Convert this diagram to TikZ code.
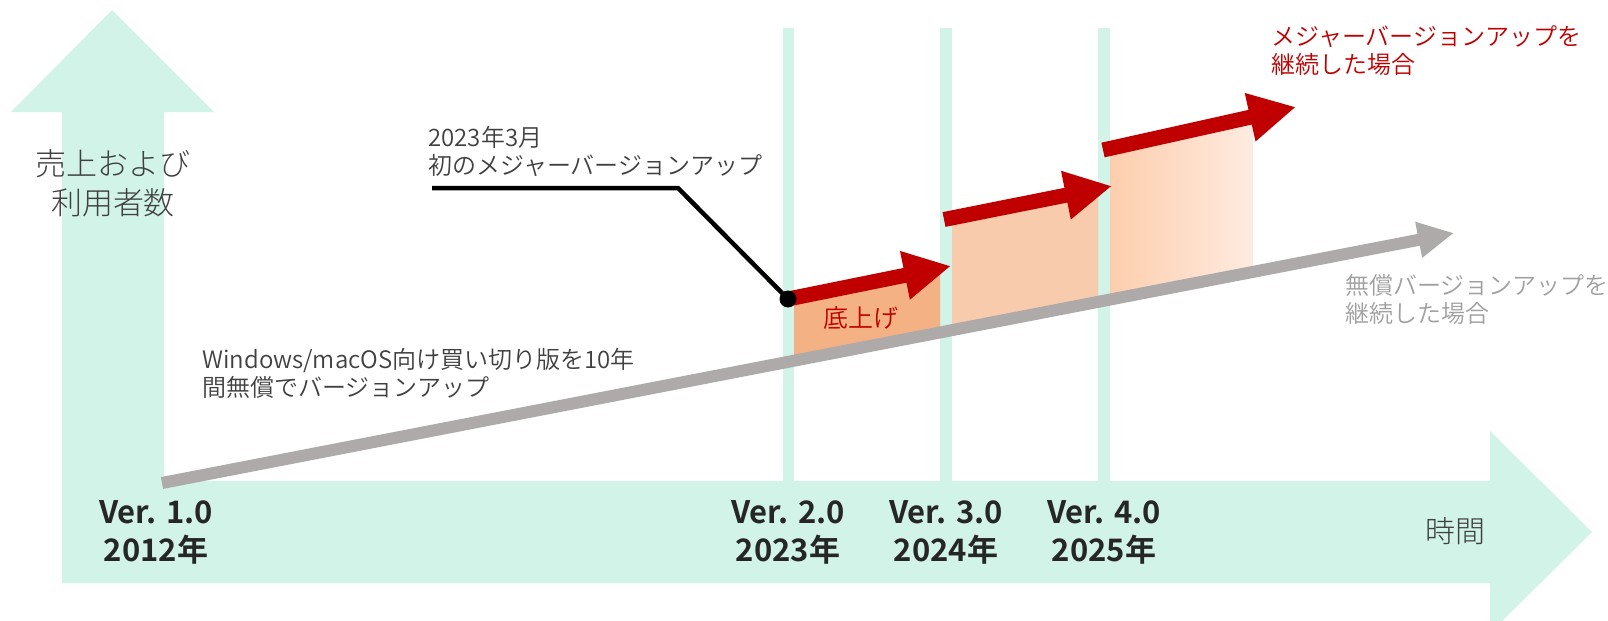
\documentclass[tikz,border=0pt]{standalone}
\usepackage{fontspec}
\setmainfont{Noto Sans CJK JP}[BoldFont={Noto Sans CJK JP Bold}]
\IfFontExistsTF{Noto Sans CJK JP DemiLight}
  {\newfontfamily\notefont{Noto Sans CJK JP DemiLight}}
  {\newfontfamily\notefont{Noto Sans CJK JP}}
\IfFontExistsTF{Noto Sans CJK JP Light}
  {\newfontfamily\lightfont{Noto Sans CJK JP Light}}
  {\newfontfamily\lightfont{Noto Sans CJK JP}}
\usetikzlibrary{arrows.meta}
\definecolor{mint}{HTML}{D1F3E8}
\definecolor{darkred}{HTML}{C00000}
\definecolor{lgray}{HTML}{AEAAAA}
\definecolor{org1}{HTML}{F4B183}
\definecolor{org2}{HTML}{F8CBAD}
\definecolor{org3a}{HTML}{FDCEAE}
\definecolor{org3b}{HTML}{FEEBE0}
\definecolor{txt}{HTML}{404040}
\definecolor{vertxt}{HTML}{262626}
\definecolor{notegray}{HTML}{A0A0A0}
\begin{document}
\begin{tikzpicture}[x=0.5pt,y=-0.5pt,
  bar/.style={fill=mint},
  redarrow/.style={draw=darkred, line width=7.5pt, -{Triangle[width=23pt,length=23.5pt]}},
  grayarrow/.style={draw=lgray, line width=6pt, -{Triangle[width=17pt,length=18pt]}},
  note/.style={inner sep=0pt, anchor=base west, align=left, font=\notefont\fontsize{12}{13.75}\selectfont},
  verlabel/.style={inner sep=0pt, anchor=base, align=center, text=vertxt, font=\fontsize{15.5}{19}\selectfont\bfseries},
  callout/.style={draw=black, line width=2.25pt},
  dotstyle/.style={circle, fill=black, inner sep=0pt, minimum size=8.5pt}
]
\useasboundingbox (0,0) rectangle (1608,621);
% mint axes
\begin{scope}
\clip (0,0) rectangle (1608,621);
\fill[mint] (62,583) -- (62,112) -- (11,112) -- (112,10) -- (214,112) -- (164,112)
  -- (164,481) -- (1490,481) -- (1490,431) -- (1592,532) -- (1490,633) -- (1490,583) -- cycle;
\end{scope}
% vertical bars
\fill[bar] (782.75,28) rectangle (794.25,481);
\fill[bar] (940.25,28) rectangle (951.75,481);
\fill[bar] (1098.25,28) rectangle (1109.75,481);
% boxes
\fill[org1] (794,298) -- (940,268.2) -- (940,332.5) -- (794,360.7) -- cycle;
\fill[org2] (952,217.9) -- (1098,188.9) -- (1098,302) -- (952,330) -- cycle;
\shade[left color=org3a, right color=org3b] (1110,148.4) -- (1253,116.5) -- (1253,272) -- (1110,299.6) -- cycle;
% gray trend
\coordinate (g0) at (162,483);
\coordinate (g1) at (1454,233);
\draw[grayarrow] (g0) -- (g1);
% red arrows
\coordinate (d) at (788,299);
\coordinate (r1) at (951,266);
\coordinate (r2s) at (944,219.5);
\coordinate (r2) at (1112,186);
\coordinate (r3s) at (1103,150);
\coordinate (r3) at (1296,107);
\draw[redarrow] (d) -- (r1);
\draw[redarrow] (r2s) -- (r2);
\draw[redarrow] (r3s) -- (r3);
% callout
\coordinate (c1) at (432,188);
\coordinate (c2) at (678,188);
\draw[callout] (c1) -- (c2) -- (d);
\node[dotstyle] (dot) at (d) {};
% texts (base anchor = baseline of the last line)
\node[inner sep=0pt, anchor=base, align=center, text=txt, font=\lightfont\fontsize{15.5}{19.5}\selectfont] (yaxis) at (113,214) {売上および\\利用者数};
\node[note, text=txt] (ann1) at (428,174) {2023年3月\\初のメジャーバージョンアップ};
\node[note, text=txt] (ann2) at (202,396) {Windows/macOS向け買い切り版を10年\\間無償でバージョンアップ};
\node[note, text=darkred] (rednote) at (1271,73) {メジャーバージョンアップを\\継続した場合};
\node[note, text=notegray] (graynote) at (1345,322) {無償バージョンアップを\\継続した場合};
\node[inner sep=0pt, anchor=base, text=darkred, font=\notefont\fontsize{12.5}{15}\selectfont] (sokoage) at (861,327.5) {底上げ};
\node[inner sep=0pt, anchor=base, text=txt, font=\lightfont\fontsize{15}{18}\selectfont] (jikan) at (1455,542) {時間};
\node[verlabel] (v1) at (156,561) {Ver. 1.0\\2012年};
\node[verlabel] (v2) at (788,561) {Ver. 2.0\\2023年};
\node[verlabel] (v3) at (946,561) {Ver. 3.0\\2024年};
\node[verlabel] (v4) at (1104,561) {Ver. 4.0\\2025年};
\end{tikzpicture}
\end{document}
